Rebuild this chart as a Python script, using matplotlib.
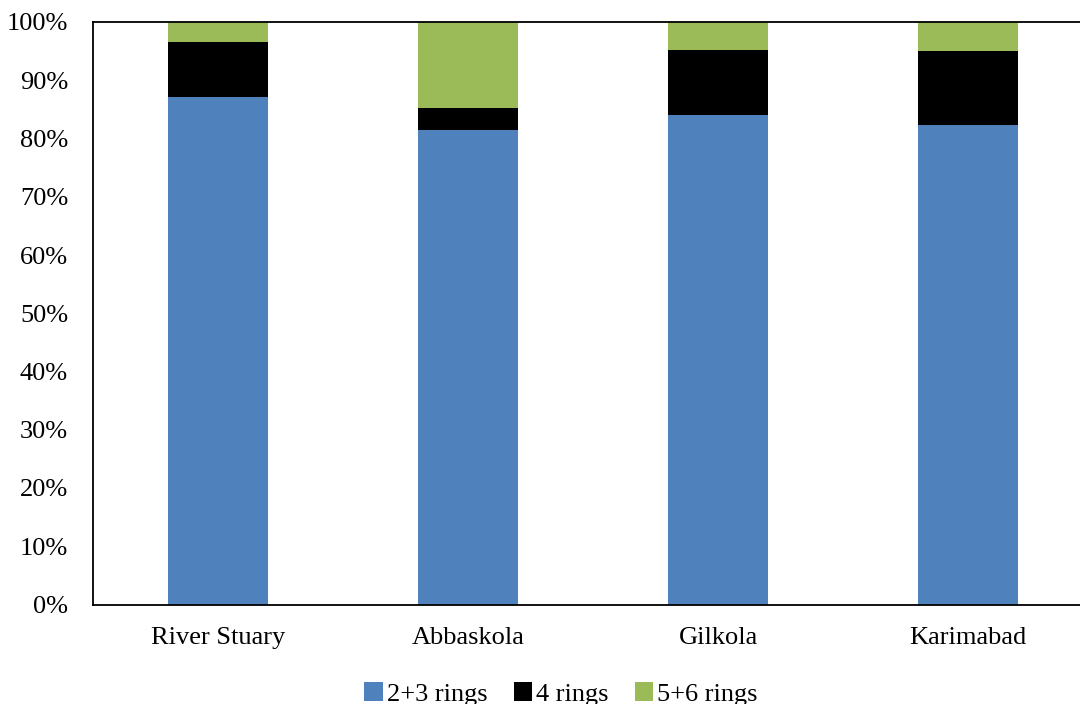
import numpy as np
import matplotlib.pyplot as plt
from matplotlib.ticker import PercentFormatter

sites = ["River Stuary", "Abbaskola", "Gilkola", "Karimabad"]
rings_23 = [87.1, 81.4, 84.1, 82.4]
rings_4 = [9.5, 3.8, 11.1, 12.7]
rings_56 = [3.4, 14.8, 4.8, 4.9]

plt.rcParams['font.family'] = ['Liberation Serif', 'DejaVu Serif']

fig = plt.figure(figsize=(10.8, 7.04), dpi=100)
ax = fig.add_axes([93/1080, 1 - 604.5/704, 1000/1080, (604.5 - 22)/704])

x = np.arange(len(sites))
w = 0.4
b1 = np.array(rings_23)
b2 = b1 + np.array(rings_4)
ax.bar(x, rings_23, w, color='#4F81BD', label='2+3 rings')
ax.bar(x, rings_4, w, bottom=b1, color='black', label='4 rings')
ax.bar(x, rings_56, w, bottom=b2, color='#9BBB59', label='5+6 rings')

ax.set_xlim(-0.5, 3.5)
ax.set_ylim(0, 100)
ax.set_yticks(np.arange(0, 101, 10))
ax.yaxis.set_major_formatter(PercentFormatter(decimals=0))
ax.set_xticks(x)
ax.set_xticklabels(sites)
ax.tick_params(axis='both', length=0, labelsize=19, colors='black')
ax.tick_params(axis='y', pad=18)
ax.tick_params(axis='x', pad=16)
for s in ax.spines.values():
    s.set_color('black')
    s.set_linewidth(1.3)

fig.legend(loc='center', bbox_to_anchor=(561/1080, 1 - 694/704), ncol=3,
           frameon=False, fontsize=19, handlelength=0.7, handleheight=0.7,
           handletextpad=0.15, columnspacing=1.0)

fig.savefig('out.png', dpi=100)
